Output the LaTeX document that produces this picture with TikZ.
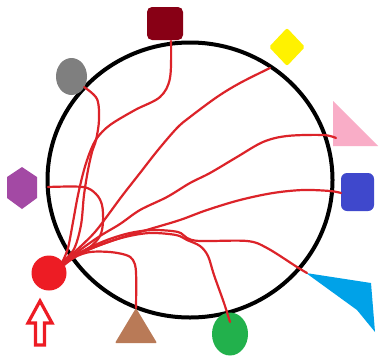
\documentclass[tikz,border=0pt]{standalone}
\usetikzlibrary{shapes.geometric}
\definecolor{pdred}{HTML}{880015}
\definecolor{pred}{HTML}{ED1C24}
\definecolor{wirered}{HTML}{DC2329}
\definecolor{pyellow}{HTML}{FFF200}
\definecolor{pgreen}{HTML}{22B14C}
\definecolor{pturq}{HTML}{00A2E8}
\definecolor{pindigo}{HTML}{3F48CC}
\definecolor{ppurple}{HTML}{A349A4}
\definecolor{pgray}{HTML}{7F7F7F}
\definecolor{pbrown}{HTML}{B97A57}
\definecolor{ppink}{HTML}{F9ADC7}
\begin{document}
\begin{tikzpicture}[x=1pt,y=-1pt,
  wire/.style={draw=wirered, line width=2.2pt, line cap=round, line join=round},
  blob/.style={inner sep=0pt, outer sep=0pt, draw=none}]
\useasboundingbox (0,0) rectangle (379,356);
\fill[white] (0,0) rectangle (379,356);
% ring
\draw[line width=4pt] (190,180) ellipse [x radius=142.5, y radius=137.5];
% shapes
\node[blob, rectangle, rounded corners=5pt, fill=pdred, minimum width=36pt, minimum height=33pt] (maroon) at (165,23.5) {};
\node[blob, ellipse, fill=pgray, minimum width=31pt, minimum height=37pt] (grayb) at (71.5,76.5) {};
\node[blob, diamond, fill=pyellow, minimum width=36pt, minimum height=38pt, rounded corners=2pt] (diam) at (287,47) {};
\node[blob, rectangle, rounded corners=6pt, fill=pindigo, minimum width=33pt, minimum height=38pt] (bluesq) at (357.5,192) {};
\node[blob, ellipse, fill=pgreen, minimum width=36pt, minimum height=43pt] (greenb) at (230,334) {};
\node[blob, circle, fill=pred, minimum size=35pt] (src) at (49,273) {};
\fill[ppink] (333,101) -- (378,146) -- (333,146) -- cycle;
\fill[pturq] (306,273) -- (371,283) -- (375,332) -- (357,310) -- cycle;
\fill[pbrown, rounded corners=1pt] (136,308) -- (157,343) -- (115,343) -- cycle;
\fill[ppurple] (22,167) -- (37,177) -- (37,198) -- (22,209) -- (7,198) -- (7,177) -- cycle;
% arrow
\draw[pred, line width=3.2pt, line join=miter, fill=white] (40,301) -- (52,323) -- (44.5,323) -- (44.5,345) -- (35.5,345) -- (35.5,323) -- (28,323) -- cycle;
% free ends
\coordinate (hexend) at (48,187);
\coordinate (yelend) at (270,68);
\coordinate (pinkend) at (336,138);
\coordinate (blueend) at (341,193);
\coordinate (turqend) at (307,273);
\coordinate (greenend) at (230,322);
\coordinate (brownend) at (136,308);
% wires
\draw[wire] plot[smooth, tension=0.55] coordinates {(171,41) (170,78) (160,97) (135,110) (110,125) (97,138) (90,152) (84,170) (78,195) (73,222) (68,248) (src.40)};
\draw[wire] plot[smooth, tension=0.55] coordinates {(grayb.-40) (97,99) (99,120) (96,140) (92,152) (88,170) (84,195) (81,225) (74,249) (src.40)};
\draw[wire] plot[smooth, tension=0.55] coordinates {(hexend) (83,187) (96,194) (102,205) (103,222) (100,236) (90,247) (75,255) (src.38)};
\draw[wire] plot[smooth, tension=0.55] coordinates {(yelend) (240,83) (217,97) (190,117) (177,128) (158,150) (140,173) (122,196) (108,215) (95,232) (80,247) (src.38)};
\draw[wire] plot[smooth, tension=0.55] coordinates {(pinkend) (323,135) (287,136) (263,142) (237,157) (210,173) (190,183) (167,197) (140,210) (120,224) (100,236) (80,250) (src.35)};
\draw[wire] plot[smooth, tension=0.55] coordinates {(blueend) (330,191) (303,190) (273,193) (240,200) (207,210) (180,220) (150,229) (120,238) (95,247) (75,255) (src.33)};
\draw[wire] plot[smooth, tension=0.55] coordinates {(turqend) (297,267) (267,248) (247,241) (200,241) (187,238) (178,232) (153,230) (130,233) (107,240) (85,250) (src.32)};
\draw[wire] plot[smooth, tension=0.55] coordinates {(greenend) (224,303) (214,275) (208,256) (200,246) (187,240) (176,235) (150,233) (125,237) (100,245) (80,254) (src.30)};
\draw[wire] plot[smooth, tension=0.55] coordinates {(brownend) (136,272) (133,260) (126,255) (110,252) (90,252) (75,257) (src.28)};
\end{tikzpicture}
\end{document}
